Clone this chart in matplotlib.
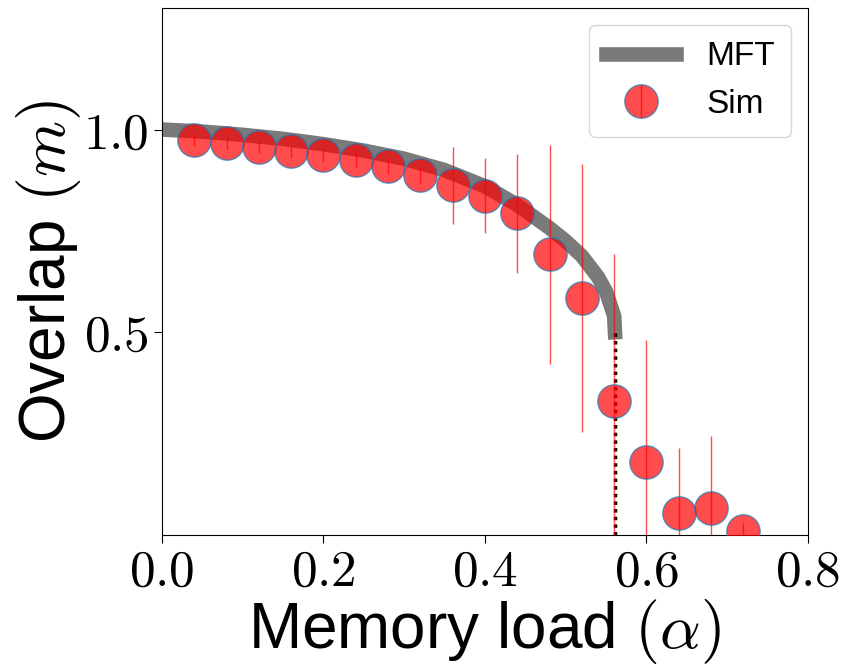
import matplotlib
matplotlib.use('Agg')
import matplotlib.pyplot as plt
from matplotlib.ticker import FormatStrFormatter

# simulation results
alpha_sim = [0.04, 0.08, 0.12, 0.16, 0.20, 0.24, 0.28, 0.32, 0.36,
             0.40, 0.44, 0.48, 0.52, 0.56, 0.60, 0.64, 0.68, 0.72]
m_sim = [0.975, 0.968, 0.956, 0.946, 0.936, 0.924, 0.909, 0.889, 0.862,
         0.837, 0.793, 0.692, 0.584, 0.330, 0.180, 0.054, 0.067, 0.010]
m_err = [0.015, 0.015, 0.015, 0.016, 0.016, 0.017, 0.018, 0.020, 0.094,
         0.093, 0.146, 0.270, 0.330, 0.362, 0.300, 0.160, 0.177, 0.020]

# mean-field theory curve
alpha_mft = [0.0, 0.05, 0.10, 0.15, 0.20, 0.25, 0.30, 0.35, 0.40, 0.44,
             0.48, 0.50, 0.52, 0.54, 0.55, 0.56, 0.561]
m_mft = [1.0, 0.995, 0.987, 0.977, 0.964, 0.948, 0.928, 0.900, 0.860, 0.814,
         0.757, 0.725, 0.688, 0.636, 0.600, 0.540, 0.500]

alpha_c = 0.561
m_c = 0.5

plt.rcParams['font.family'] = ['Liberation Sans', 'DejaVu Sans']
plt.rcParams['mathtext.fontset'] = 'cm'

fig = plt.figure(figsize=(8.46, 6.66), dpi=100)
ax = fig.add_axes([0.1915, 0.197, 0.7635, 0.791])

ax.plot(alpha_mft, m_mft, color='#7a7a7a', lw=10.5, label='MFT', zorder=2)
ax.plot([alpha_c, alpha_c], [0, m_c], color='k', ls=(0, (1, 1.2)), lw=2.5, zorder=3)
ax.errorbar(alpha_sim, m_sim, yerr=m_err, fmt='o', ms=24, color='red', alpha=0.7,
            mec='#1f77b4', mew=1, ecolor='red', elinewidth=1, label='Sim', zorder=4)

ax.set_xlim(0, 0.8)
ax.set_ylim(0, 1.3)
ax.set_xticks([0.0, 0.2, 0.4, 0.6, 0.8])
ax.set_yticks([0.5, 1.0])
ax.xaxis.set_major_formatter(FormatStrFormatter('$%.1f$'))
ax.yaxis.set_major_formatter(FormatStrFormatter('$%.1f$'))
ax.tick_params(labelsize=37, length=6)

ax.set_xlabel(r'Memory load $(\alpha)$', fontsize=46, labelpad=0)
ax.set_ylabel(r'Overlap $(m)$', fontsize=46, labelpad=0)

ax.legend(loc='upper right', fontsize=24, handlelength=2.1, borderpad=0.5,
          labelspacing=0.5, handletextpad=0.9, borderaxespad=0.5)

fig.savefig('out.png', dpi=100)
